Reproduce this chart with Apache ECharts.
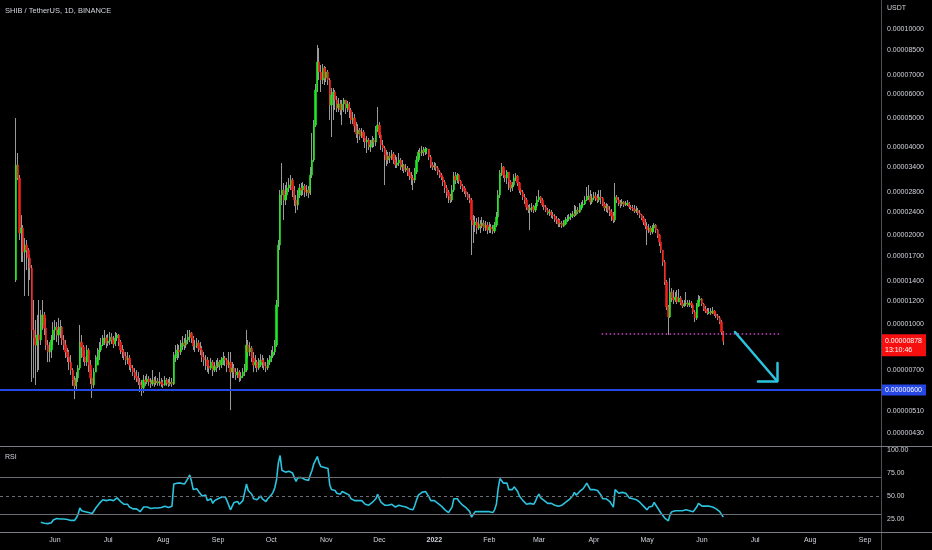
<!DOCTYPE html>
<html>
<head>
<meta charset="utf-8">
<script src="https://cdn.jsdelivr.net/npm/echarts@6/dist/echarts.min.js"></script>
<style>html,body{margin:0;padding:0;background:#000;}#chart{width:932px;height:550px;}</style>
</head>
<body>
<div id="chart"></div>
<script>
// ---------- DATA (prices in units of 1e-8 USDT) ----------
const PRICE_UNIT = 1e-8;
const startDate = '2021-05-10';          // first daily candle (SHIB listing)
const firstOpen = 1414;
const closes = [
3464,3130,2039,2120,1758,1857,1786,1678,1552,958,
900,852,921,886,996,1077,972,852,807,820,
886,958,980,921,958,980,886,852,807,776,
746,701,649,620,659,712,872,839,776,746,
820,729,659,624,690,729,776,820,852,886,
900,865,879,907,886,859,900,921,872,820,
807,782,758,770,729,712,690,669,659,639,
624,610,649,639,654,639,629,649,634,644,
634,639,629,624,649,634,629,639,629,770,
788,820,807,845,865,852,886,907,935,900,
845,845,865,832,820,776,758,758,724,712,
746,701,724,718,746,729,758,770,758,729,
746,690,712,690,675,690,659,669,690,701,
852,807,832,770,729,746,712,729,758,746,
724,712,746,758,782,807,852,1164,1857,2742,
2851,2637,2742,2895,2964,3082,2851,2637,2536,2742,
2895,2851,2941,2806,2851,2785,3204,3602,4731,6215,
7731,7152,6719,7378,6825,7152,6719,5530,5978,6119,
5749,5402,5573,5318,5573,5749,5402,5573,5318,4920,
4997,4695,4411,4551,4343,4480,4276,4144,4209,3986,
4049,4209,4144,4551,4731,4377,4049,3955,3745,3602,
3716,3658,3774,3602,3464,3518,3602,3410,3464,3332,
3384,3280,3180,3130,3082,3280,3602,3834,3804,3894,
3834,3924,3924,3687,3464,3410,3437,3384,3280,3204,
3155,3034,2895,2806,2720,2637,2851,3180,3082,3204,
3058,2941,2895,2828,2763,2678,2637,2256,2170,2221,
2120,2187,2153,2204,2120,2170,2087,2136,2104,2071,
2170,2310,2742,3255,3410,3204,3130,3280,3034,2895,
2964,3130,3180,3011,2851,2806,2699,2637,2497,2439,
2478,2497,2439,2517,2637,2699,2637,2536,2497,2439,
2383,2402,2346,2328,2274,2256,2187,2204,2153,2187,
2256,2274,2310,2328,2364,2346,2439,2402,2478,2536,
2556,2637,2699,2720,2596,2678,2720,2678,2637,2699,
2678,2556,2478,2517,2439,2402,2328,2256,2699,2637,
2576,2556,2596,2536,2556,2576,2497,2478,2458,2420,
2439,2383,2346,2292,2221,2153,2087,2120,2055,2120,
2170,2087,2007,1901,1786,1627,1392,1146,1060,1288,
1229,1210,1239,1191,1229,1182,1155,1173,1182,1164,
1182,1164,1102,1052,1155,1210,1219,1173,1128,1111,
1094,1102,1094,1111,1085,1068,1052,1019,943,878
];
const highs = [
4997,3804,3204,2346,2170,1961,1931,1814,1718,1589,
1210,1035,1077,1210,1119,1210,1102,1052,886,872,
921,1019,1035,1019,1052,1035,988,921,886,832,
820,788,712,669,690,729,996,921,852,820,
852,832,758,701,712,788,832,872,900,921,
958,921,928,943,935,914,943,935,928,886,
852,826,807,807,788,758,729,712,701,690,
659,649,675,669,680,669,659,701,664,669,
659,690,659,649,669,659,654,664,659,807,
852,859,852,886,914,900,928,958,958,943,
914,886,900,886,872,845,807,788,776,758,
770,758,746,758,770,758,776,807,782,770,
807,807,746,735,712,712,701,690,712,735,
958,886,872,845,807,788,758,770,794,788,
770,746,770,788,820,845,886,1210,1931,2851,
3518,3011,2964,3034,3130,3204,3130,2941,2742,2851,
2987,3011,3034,2987,2964,2941,3410,4446,4920,6513,
8827,8623,7553,7612,7494,7436,7264,6825,6313,6313,
6215,5932,5840,5749,5749,5840,5749,5705,5660,5402,
5236,5155,4843,4768,4622,4622,4551,4480,4343,4276,
4209,4343,4276,4695,5444,4843,4480,4209,4017,3894,
3834,3834,3894,3834,3745,3687,3804,3658,3602,3491,
3491,3437,3384,3280,3204,3384,3716,3894,3955,4017,
3986,3986,3955,3924,3745,3546,3546,3518,3437,3332,
3255,3180,3082,2964,2851,2763,2964,3280,3280,3255,
3229,3082,2987,2941,2895,2806,2763,2678,2346,2328,
2292,2310,2256,2310,2256,2239,2221,2221,2187,2170,
2221,2402,2851,3332,3518,3437,3332,3332,3280,3082,
3034,3229,3255,3204,3034,2895,2851,2763,2678,2536,
2556,2576,2536,2576,2720,2851,2720,2678,2576,2536,
2478,2458,2439,2402,2364,2328,2292,2274,2239,2256,
2310,2346,2364,2383,2420,2536,2517,2497,2576,2596,
2637,2720,2918,2964,2851,2763,2806,2806,2763,2851,
2851,2699,2596,2576,2556,2517,2458,2402,3011,2742,
2699,2637,2658,2617,2617,2637,2596,2536,2536,2536,
2517,2478,2439,2364,2328,2274,2221,2187,2153,2170,
2204,2187,2104,2023,1872,1786,1652,1414,1164,1436,
1328,1308,1288,1308,1318,1248,1210,1210,1288,1210,
1210,1201,1173,1119,1182,1258,1248,1229,1182,1155,
1137,1137,1137,1146,1119,1102,1085,1068,1035,950
];
const lows = [
1392,3082,1931,1627,1627,1248,1528,1248,1414,639,
659,624,690,701,852,958,921,820,746,746,
770,852,886,872,852,900,852,820,770,746,
701,675,620,559,600,639,701,770,746,724,
724,690,629,564,610,690,729,758,807,845,
852,832,845,852,859,832,845,879,845,794,
770,758,729,735,701,690,669,649,639,624,
591,573,587,620,629,620,610,620,615,624,
620,620,615,610,620,620,615,620,615,624,
746,758,770,788,820,820,832,859,872,865,
820,807,832,807,788,746,724,701,690,680,
701,669,690,690,712,701,712,729,724,690,
712,513,659,659,649,659,639,644,659,669,
690,770,782,746,690,712,690,701,718,712,
701,690,701,729,746,770,788,839,1146,1786,
2536,2256,2536,2637,2806,2851,2699,2517,2383,2439,
2678,2720,2742,2699,2720,2678,2742,3130,3546,4658,
6119,6719,6119,6513,6462,6615,6462,4920,4309,4920,
5318,5236,5236,5115,4731,5236,5155,5236,4997,4768,
4768,4480,4276,4112,4209,4276,4144,3955,3804,3894,
3834,3955,3986,4017,4480,4276,3894,3834,2964,3437,
3491,3518,3602,3491,3384,3384,3437,3332,3306,3255,
3280,3180,3082,2964,2851,3011,3229,3546,3658,3716,
3716,3745,3774,3602,3384,3332,3332,3306,3204,3130,
3082,2941,2785,2678,2576,2576,2596,2806,2987,3011,
2987,2873,2806,2763,2699,2637,2576,1718,1886,2055,
2023,2087,2039,2120,2071,2071,2023,2039,2039,2023,
2039,2136,2274,2678,3180,3130,3034,2987,2851,2806,
2828,2918,3058,2941,2785,2742,2637,2556,2439,2383,
2087,2402,2383,2402,2478,2596,2576,2497,2439,2402,
2346,2328,2292,2274,2221,2187,2136,2136,2120,2136,
2170,2221,2239,2256,2292,2310,2328,2364,2383,2439,
2497,2536,2617,2637,2536,2556,2637,2617,2576,2596,
2556,2517,2420,2402,2383,2328,2239,2204,2221,2576,
2517,2478,2517,2497,2517,2517,2458,2439,2420,2383,
2383,2346,2292,2256,2170,2104,1857,2039,2007,2023,
2055,2039,1961,1843,1745,1577,1360,1119,921,1052,
1191,1173,1191,1173,1191,1164,1137,1146,1155,1146,
1146,1137,1085,1019,1035,1146,1191,1155,1111,1094,
1077,1085,1077,1085,1068,1052,1035,1003,921,852
];
// RSI(14), first value on the 15th candle
const rsiStartIndex = 14;
const rsiValues = [
21.5,21,20.5,20,20,20.5,21,
24,26,25.5,26,25,24.5,25,24,24.5,24,23.5,23,23.5,
26,30,37,
34,35,33,35,32,33,31,
34,37,39,42,44,46,47.5,
45,47,46,48,45,47,48,46,
44,43,41,40,41,38,37,36,35,36,34,33,31,
38,
37,38,37,36.5,37.5,37,38,37,38.5,37.5,37,39,38,37.5,38,
39,63,61,64,62,64,65,63,66,69,73,
66,57,56,58,55,53,50,49,51,
45,43,47,42,
45,44,47,45,49,51,49,45,47,35,39,
43,42,44,41,42,45,
46,63,
56,58,52,47,
49,46,48,50,47,45,44,
47,49,51,54,
59,68,86,94,
78,78,76,78,
77,79,75,70,66,70,
71,70,71,68,69,67,
73,78,85,89,93,
86,82,84,81,83,80,
62,57,58,56,53,55,52,55,56,53,
54,51,47,48,45,43,45,44,
45,43,41,42,40,41,
43,42,47,52,47,
43,42,40,38,40,39,41,39,38,39,40,
38,39,37,38,37,36,36,35,
40,46,51,52,54,52,55,54,
49,45,44,45,44,42,40,39,37,35,33,
32,31,38,47,45,47,
44,42,40,39,37,35,33,
27,29,
33,31,33,32,33,32,33,32,33,33,32,
35,41,58,69,
70,64,62,
64,57,55,57,60,60,
55,50,48,45,44,41,
40,42,43,41,44,
49,52,
48,46,45,44,42,43,42,42,40,41,39,
41,40,42,43,45,46,48,50,54,51,53,55,57,58,61,64,66,
57,58,57,59,56,58,
51,47,45,47,46,44,
41,38,
57,
55,53,52,54,52,53,
52,48,47,47,45,46,44,43,
41,39,37,
35,38,36,39,43,40,37,34,
31,29,
26,24,23,30,
33,32,34,33,34,33,34,34,35,34,34,34,33,31,
38,42,
40,39,38,39,38,39,39,38,
37,36,35,33,30,27
];
const rsiBands = { upper: 70, middle: 50, lower: 30 };

// axis ticks
const priceTicks = [10000,8500,7000,6000,5000,4000,3400,2800,2400,2000,1700,1400,1200,1000,700,510,430];
const rsiTicks = [25, 50, 75, 100];
const monthTickDates = ['2021-06-01','2021-07-01','2021-08-01','2021-09-01','2021-10-01','2021-11-01','2021-12-01','2022-01-01',
                        '2022-02-01','2022-03-01','2022-04-01','2022-05-01','2022-06-01','2022-07-01','2022-08-01','2022-09-01'];
const monthTickLabels = ['Jun','Jul','Aug','Sep','Oct','Nov','Dec','2022','Feb','Mar','Apr','May','Jun','Jul','Aug','Sep'];

// visible ranges
const xRange = ['2021-04-30T23:22:34Z', '2022-09-09T23:31:00Z'];
const priceRange = [391, 12534];
const rsiRange = [10.9, 103.3];

// annotations
const supportLevel = 600;
const lastPrice = 878;
const lastPriceTimer = '13:10:46';
const mayLowLevel = 929;
const mayLowSpan = ['2022-04-05T09:36:00Z', '2022-07-15T00:00:00Z'];
const arrowStart = ['2022-06-19T14:24:00Z', 943];
const arrowEnd   = ['2022-07-13T07:12:00Z', 644];
const arrowHeadA = ['2022-07-13T07:12:00Z', 741];
const arrowHeadB = ['2022-07-02T14:24:00Z', 644];

const titleText = 'SHIB / TetherUS, 1D, BINANCE';
const currencyText = 'USDT';
const rsiTitle = 'RSI';

// ---------- BUILD ----------
const FONT = '"Liberation Sans", Arial, sans-serif';
const UP = '#1fe81f', DOWN = '#f0201a', WICK = '#9a9a9a';
const LABEL_C = '#d1d4dc', LINE_C = '#6a6d76', RSI_C = '#2bc3de', BLUE = '#2447e6', RED = '#f70f0f';
const U = PRICE_UNIT;
const DAY = 864e5;
const t0 = Date.parse(startDate + 'T00:00:00Z');
const dates = closes.map((_, i) => t0 + i * DAY);
const opens = closes.map((c, i) => i === 0 ? firstOpen : closes[i - 1]);
const wickData = closes.map((c, i) => [dates[i], opens[i] * U, c * U, lows[i] * U, highs[i] * U]);
const bodyData = closes.map((c, i) => [dates[i], opens[i] * U, c * U, Math.min(opens[i], c) * U, Math.max(opens[i], c) * U]);
const rsiData = rsiValues.map((v, i) => [dates[rsiStartIndex + i], v]);
const monthTickTimes = monthTickDates.map(d => Date.parse(d + 'T00:00:00Z'));
const tp = s => Date.parse(s);
const xMin = tp(xRange[0]), xMax = tp(xRange[1]);

function monthLabel(val) {
  let best = 0, bd = Infinity;
  monthTickTimes.forEach((t, i) => { const d = Math.abs(t - val); if (d < bd) { bd = d; best = i; } });
  const s = monthTickLabels[best];
  return /^\d{4}$/.test(s) ? '{y|' + s + '}' : s;
}
const seg = (x1, y1, x2, y2, lineStyle, label) => [
  { coord: [x1, y1], lineStyle: lineStyle, label: label || { show: false } },
  { coord: [x2, y2] }
];

const chart = echarts.init(document.getElementById('chart'), null, { renderer: 'canvas' });
const option = {
  backgroundColor: '#000',
  animation: false,
  textStyle: { fontFamily: FONT },
  grid: [
    { left: 0, top: 0, width: 881, height: 445 },
    { left: 0, top: 447, width: 881, height: 85 }
  ],
  xAxis: [
    { type: 'value', gridIndex: 0, min: xMin, max: xMax, scale: true,
      axisLine: { show: false }, axisTick: { show: false }, axisLabel: { show: false }, splitLine: { show: false } },
    { type: 'value', gridIndex: 1, min: xMin, max: xMax, scale: true,
      axisLine: { show: false }, axisTick: { show: false }, splitLine: { show: false },
      axisLabel: { customValues: monthTickTimes, formatter: monthLabel, color: LABEL_C, fontSize: 7, margin: 5,
                   fontFamily: FONT, hideOverlap: false,
                   rich: { y: { fontWeight: 'bold', fontSize: 7, color: LABEL_C, fontFamily: FONT } } } }
  ],
  yAxis: [
    { type: 'log', logBase: 10, gridIndex: 0, position: 'right', min: priceRange[0] * U, max: priceRange[1] * U,
      axisLine: { show: false }, axisTick: { show: false }, splitLine: { show: false },
      axisLabel: { customValues: priceTicks.map(v => v * U), formatter: v => Number(v).toFixed(8),
                   color: LABEL_C, fontSize: 7, margin: 6, fontFamily: FONT } },
    { type: 'value', gridIndex: 1, position: 'right', min: rsiRange[0], max: rsiRange[1],
      axisLine: { show: false }, axisTick: { show: false }, splitLine: { show: false },
      axisLabel: { customValues: rsiTicks, formatter: v => Number(v).toFixed(2),
                   color: LABEL_C, fontSize: 7, margin: 6, fontFamily: FONT } }
  ],
  series: [
    { name: 'wick', type: 'candlestick', xAxisIndex: 0, yAxisIndex: 0, data: wickData,
      encode: { x: 0, y: [1, 2, 3, 4] }, barWidth: 0.3, silent: true,
      itemStyle: { color: WICK, color0: WICK, borderColor: WICK, borderColor0: WICK, borderWidth: 1 } },
    { name: 'body', type: 'candlestick', xAxisIndex: 0, yAxisIndex: 0, data: bodyData,
      encode: { x: 0, y: [1, 2, 3, 4] }, barWidth: 1.8, silent: true,
      itemStyle: { color: UP, color0: DOWN, borderColor: UP, borderColor0: DOWN, borderWidth: 0.6 },
      markLine: {
        silent: true, symbol: 'none', animation: false, precision: 10,
        data: [
          seg(xMin, supportLevel * U, xMax, supportLevel * U,
              { color: BLUE, width: 2, type: 'solid' },
              { show: true, position: 'end', distance: 1, formatter: (supportLevel * U).toFixed(8),
                backgroundColor: BLUE, color: '#fff', fontSize: 7, fontFamily: FONT, padding: [2, 4, 2, 3] }),
          seg(xMin, lastPrice * U, xMax, lastPrice * U,
              { color: 'rgba(0,0,0,0)', width: 1, type: 'solid' },
              { show: true, position: 'end', distance: 1, formatter: (lastPrice * U).toFixed(8) + '\n' + lastPriceTimer,
                backgroundColor: RED, color: '#fff', fontSize: 7, lineHeight: 9, fontFamily: FONT,
                padding: [2, 4, 2, 3], offset: [0, 4] }),
          seg(tp(mayLowSpan[0]), mayLowLevel * U, tp(mayLowSpan[1]), mayLowLevel * U,
              { color: '#cc44cc', width: 1.5, type: [1.5, 2.5] }),
          seg(tp(arrowStart[0]), arrowStart[1] * U, tp(arrowEnd[0]), arrowEnd[1] * U,
              { color: RSI_C, width: 2.5, type: 'solid', cap: 'round' }),
          seg(tp(arrowHeadA[0]), arrowHeadA[1] * U, tp(arrowEnd[0]), arrowEnd[1] * U,
              { color: RSI_C, width: 2.5, type: 'solid', cap: 'round' }),
          seg(tp(arrowHeadB[0]), arrowHeadB[1] * U, tp(arrowEnd[0]), arrowEnd[1] * U,
              { color: RSI_C, width: 2.5, type: 'solid', cap: 'round' })
        ]
      } },
    { name: 'RSI', type: 'line', xAxisIndex: 1, yAxisIndex: 1, data: rsiData, showSymbol: false, silent: true,
      lineStyle: { color: RSI_C, width: 1.6 },
      markLine: {
        silent: true, symbol: 'none', label: { show: false },
        lineStyle: { color: LINE_C, width: 1, type: 'solid' },
        data: [
          { yAxis: rsiBands.upper },
          { yAxis: rsiBands.middle, lineStyle: { type: [3, 3], color: LINE_C } },
          { yAxis: rsiBands.lower }
        ]
      } }
  ],
  graphic: [
    { type: 'line', z: 100, shape: { x1: 881.5, y1: 0, x2: 881.5, y2: 550 }, style: { stroke: '#4c4f58', lineWidth: 1 } },
    { type: 'line', z: 100, shape: { x1: 0, y1: 446.5, x2: 932, y2: 446.5 }, style: { stroke: '#7a7d86', lineWidth: 1 } },
    { type: 'line', z: 100, shape: { x1: 0, y1: 532.5, x2: 932, y2: 532.5 }, style: { stroke: '#7a7d86', lineWidth: 1 } },
    { type: 'text', z: 100, x: 5, y: 11, style: { text: titleText, fill: LABEL_C, fontSize: 7.5, fontFamily: FONT, verticalAlign: 'middle' } },
    { type: 'text', z: 100, x: 887, y: 8, style: { text: currencyText, fill: LABEL_C, fontSize: 7, fontFamily: FONT, verticalAlign: 'middle' } },
    { type: 'text', z: 100, x: 5, y: 457, style: { text: rsiTitle, fill: LABEL_C, fontSize: 7, fontFamily: FONT, verticalAlign: 'middle' } }
  ]
};
chart.setOption(option);
</script>
</body>
</html>
